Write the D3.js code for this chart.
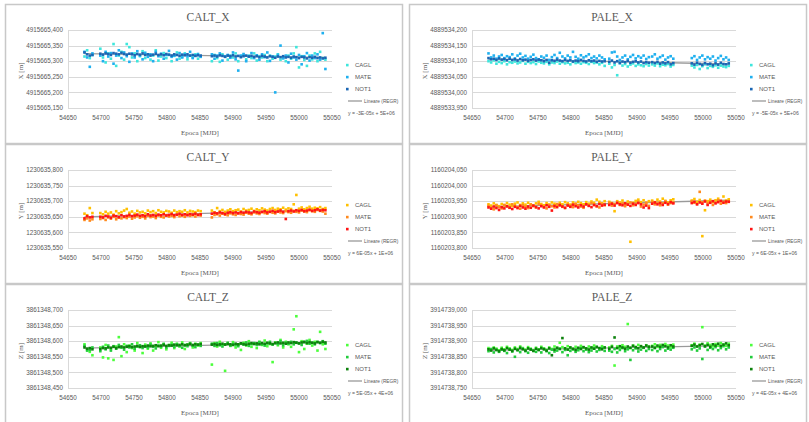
<!DOCTYPE html>
<html>
<head>
<meta charset="utf-8">
<script src="https://cdn.jsdelivr.net/npm/d3@7"></script>
<style>
  body { margin: 0; background: #fff; }
  text { fill: #595959; }
</style>
</head>
<body>
<div id="chart"></div>
<script>
// epochs (MJD) of the daily solutions, one list per site
var caltEpochs = [54675, 54679, 54683, 54687,
  54699, 54703, 54707, 54711, 54715, 54719, 54723, 54727, 54731, 54735, 54739, 54743, 54747, 54751, 54755, 54759, 54763, 54767, 54771, 54775,
  54779, 54783, 54787, 54791, 54795, 54799, 54803, 54807, 54811, 54815, 54819, 54823, 54827, 54831, 54835, 54839, 54843, 54847, 54851,
  54868, 54872, 54876, 54880, 54884, 54888, 54892, 54896, 54900, 54904, 54908, 54912, 54916, 54920, 54924, 54928, 54932, 54936, 54940, 54944,
  54948, 54952, 54956, 54960, 54964, 54968, 54972, 54976, 54980, 54984, 54988, 54992, 54996, 55000, 55004, 55008, 55012, 55016, 55020, 55024,
  55028, 55032, 55036, 55040];
var paleEpochs = [54675, 54679, 54683, 54687, 54691, 54695, 54699, 54703, 54707, 54711, 54715, 54719, 54723, 54727, 54731, 54735, 54739, 54743,
  54747, 54751, 54755, 54759, 54763, 54767, 54771, 54775, 54779, 54783, 54787, 54791, 54795, 54799, 54803, 54807, 54811, 54815, 54819, 54823,
  54827, 54831, 54835, 54839, 54843, 54847, 54851,
  54858, 54862, 54866, 54870, 54874, 54878, 54882, 54886, 54890, 54894, 54898, 54902, 54906, 54910, 54914, 54918,
  54923, 54927, 54931, 54935, 54939, 54943, 54947, 54951, 54955,
  54983, 54987, 54991, 54995, 54999, 55003, 55007, 55011, 55015, 55019, 55023, 55027, 55031, 55035, 55039];

var stations = ["CAGL", "MATE", "NOT1"];
var xTicks = [54650, 54700, 54750, 54800, 54850, 54900, 54950, 55000, 55050];

// coordinates: millimetres above the integer metre base of each panel
// CALT_X  base 4915665 m
var caltXCagl = [315, 335, 310, 320,
  340, 312, 296, 325, 308, 355, 285, 318, 330, 305, 355, 345, 312, 325, 300, 316, 332, 310, 322, 305, 318, 335, 302, 315, 326, 310, 320, 300, 317, 328, 308, 314, 325, 306, 318, 312, 322, 308, 316,
  300, 320, 310, 298, 322, 315, 305, 318, 312, 325, 300, 314, 320, 306, 318, 310, 325, 302, 316, 312, 320, 300, 318, 308, 315, 322, 305, 312, 300, 318, 308, 325, 345, 280, 316, 304, 285, 318, 306, 325, 300, 330, 310, 305];
var caltXMate = [330, 312, 282, 325,
  318, 300, 330, 315, 326, 292, 318, 335, 310, 328, 316, 298, 325, 312, 332, 318, 306, 327, 314, 322, 300, 330, 316, 324, 308, 320, 333, 314, 318, 305, 326, 312, 322, 315, 330, 310, 318, 323, 314,
  322, 308, 318, 325, 302, 316, 320, 311, 328, 306, 270, 318, 323, 300, 315, 326, 310, 319, 305, 322, 313, 328, 301, 315, 200, 320, 350, 309, 318, 296, 324, 312, 305, 320, 290, 316, 326, 302, 318, 310, 322, 305, 390, 275];
var caltXNot1 = [328, 322, 318, 320,
  324, 321, 325, 323, 320, 326, 324, 322, 327, 323, 321, 324, 322, 319, 323, 321, 325, 320, 322, 318, 321, 324, 320, 322, 319, 323, 321, 318, 322, 320, 317, 321, 319, 322, 318, 320, 317, 319, 318,
  316, 318, 315, 319, 317, 314, 318, 316, 319, 315, 317, 313, 316, 318, 315, 317, 314, 316, 313, 317, 315, 312, 316, 314, 311, 315, 313, 316, 312, 314, 311, 315, 313, 310, 314, 312, 309, 313, 311, 314, 310, 312, 309, 311];

// CALT_Y  base 1230635 m
var caltYCagl = [660, 655, 678, 662,
  662, 658, 666, 660, 664, 657, 668, 661, 665, 670, 675, 663, 667, 660, 669, 664, 666, 661, 670, 665, 668, 662, 671, 666, 664, 669, 667, 663, 670, 665, 668, 666, 671, 664, 669, 667, 665, 670, 668,
  670, 664, 678, 668, 672, 666, 670, 674, 668, 671, 673, 667, 675, 670, 672, 676, 669, 674, 671, 677, 673, 670, 675, 678, 672, 676, 674, 679, 673, 677, 675, 690, 720, 676, 680, 674, 678, 682, 676, 679, 677, 681, 675, 678];
var caltYMate = [640, 645, 638, 642,
  643, 646, 640, 648, 644, 650, 642, 647, 645, 649, 646, 651, 644, 648, 652, 647, 650, 645, 653, 649, 651, 646, 654, 650, 648, 655, 651, 653, 649, 656, 652, 654, 650, 657, 653, 655, 651, 656, 654,
  648, 656, 658, 654, 660, 657, 655, 661, 658, 656, 662, 659, 657, 663, 660, 658, 664, 661, 659, 665, 662, 660, 666, 663, 661, 667, 664, 662, 668, 665, 663, 669, 666, 664, 670, 667, 665, 671, 668, 666, 672, 669, 667, 660];
var caltYNot1 = [645, 652, 648, 650,
  650, 648, 653, 651, 647, 654, 652, 649, 655, 651, 653, 656, 652, 654, 657, 653, 655, 652, 658, 654, 656, 653, 657, 655, 658, 654, 656, 659, 655, 657, 660, 656, 658, 655, 659, 657, 660, 656, 658,
  660, 663, 661, 664, 662, 659, 663, 665, 662, 664, 661, 665, 663, 666, 664, 662, 667, 665, 663, 666, 668, 664, 666, 669, 665, 667, 670, 666, 643, 668, 670, 667, 671, 669, 672, 668, 670, 673, 669, 671, 674, 670, 672, 671];

// CALT_Z  base 3861348 m
var caltZCagl = [590, 572, 566, 555,
  580, 548, 588, 545, 575, 540, 583, 613, 552, 590, 565, 586, 578, 570, 594, 581, 562, 589, 576, 593, 570, 586, 597, 579, 591, 574, 588, 595, 578, 592, 583, 596, 575, 589, 594, 580, 592, 586, 594,
  525, 594, 583, 598, 588, 505, 592, 585, 597, 580, 590, 572, 595, 586, 600, 582, 593, 578, 598, 588, 602, 584, 591, 533, 596, 587, 604, 580, 598, 590, 582, 638, 680, 565, 600, 575, 592, 604, 586, 598, 570, 630, 590, 575];
var caltZMate = [585, 570, 572, 580,
  568, 582, 574, 586, 570, 584, 576, 588, 579, 573, 585, 580, 590, 576, 583, 587, 578, 584, 580, 589, 582, 577, 586, 583, 591, 580, 585, 588, 582, 590, 585, 579, 588, 584, 592, 586, 581, 589, 585,
  592, 585, 594, 587, 583, 590, 595, 586, 591, 588, 584, 593, 589, 596, 585, 591, 594, 588, 597, 590, 586, 593, 598, 589, 594, 591, 600, 587, 595, 592, 598, 590, 596, 593, 588, 597, 601, 592, 595, 590, 598, 594, 600, 592];
var caltZNot1 = [580, 576, 578, 574,
  575, 578, 577, 580, 579, 582, 578, 581, 583, 580, 582, 584, 581, 583, 585, 582, 584, 583, 586, 584, 585, 587, 584, 586, 588, 585, 587, 586, 589, 587, 588, 590, 587, 589, 591, 588, 590, 589, 591,
  589, 591, 588, 590, 592, 589, 591, 590, 588, 592, 590, 593, 591, 589, 592, 594, 591, 593, 590, 594, 592, 595, 593, 591, 594, 596, 593, 595, 592, 596, 594, 597, 595, 593, 596, 598, 594, 597, 595, 593, 597, 595, 598, 596];

// PALE_X  base 4889533 m
var paleXCagl = [1100, 1096, 1103, 1092, 1098, 1094, 1100, 1090, 1097, 1095, 1099, 1093, 1096, 1101, 1092, 1098, 1094, 1097, 1091, 1099, 1095, 1093, 1098,
  1090, 1096, 1094, 1099, 1092, 1097, 1093, 1095, 1090, 1098, 1094, 1096, 1092, 1097, 1095, 1091, 1098, 1094, 1096, 1090, 1095, 1085,
  1092, 1080, 1088, 1055, 1094, 1086, 1091, 1083, 1089, 1093, 1085, 1090, 1087, 1084, 1091, 1086,
  1090, 1086, 1093, 1084, 1089, 1087, 1091, 1083, 1088,
  1086, 1080, 1088, 1075, 1084, 1090, 1078, 1085, 1082, 1087, 1079, 1086, 1083, 1081, 1085];
var paleXMate = [1125, 1112, 1118, 1108, 1115, 1120, 1110, 1116, 1113, 1122, 1109, 1118, 1124, 1112, 1117, 1108, 1114, 1121, 1110, 1106, 1115, 1111, 1118,
  1104, 1113, 1120, 1110, 1127, 1115, 1109, 1118, 1112, 1130, 1114, 1108, 1119, 1112, 1116, 1122, 1110, 1115, 1109, 1118, 1112, 1106,
  1108, 1128, 1130, 1115, 1104, 1112, 1118, 1106, 1114, 1120, 1109, 1116, 1111, 1118, 1107, 1113,
  1115, 1122, 1108, 1113, 1118, 1105, 1112, 1116, 1108,
  1110, 1116, 1104, 1112, 1118, 1106, 1113, 1108, 1115, 1102, 1110, 1117, 1106, 1112, 1104];
var paleXNot1 = [1110, 1106, 1108, 1104, 1109, 1105, 1107, 1103, 1108, 1104, 1106, 1102, 1107, 1103, 1105, 1101, 1104, 1106, 1102, 1105, 1103, 1100, 1104,
  1095, 1103, 1101, 1105, 1102, 1100, 1104, 1101, 1103, 1099, 1102, 1100, 1104, 1101, 1099, 1103, 1100, 1102, 1098, 1101, 1099, 1100,
  1098, 1102, 1096, 1100, 1094, 1099, 1097, 1101, 1095, 1098, 1100, 1096, 1099, 1094, 1097, 1095,
  1097, 1094, 1098, 1092, 1096, 1093, 1097, 1090, 1094,
  1093, 1089, 1095, 1091, 1088, 1094, 1090, 1092, 1087, 1093, 1089, 1095, 1091, 1090, 1093];

// PALE_Y  base 1160203 m
var paleYCagl = [940, 936, 943, 938, 934, 941, 937, 944, 939, 935, 942, 946, 938, 943, 939, 945, 940, 936, 943, 948, 941, 937, 944,
  939, 946, 942, 938, 945, 940, 947, 943, 939, 946, 941, 948, 944, 940, 947, 942, 949, 945, 955, 948, 943, 950,
  948, 944, 918, 950, 946, 952, 943, 949, 820, 945, 951, 955, 947, 953, 944, 950,
  952, 947, 955, 949, 958, 951, 946, 953, 956,
  952, 957, 948, 954, 838, 921, 950, 955, 947, 953, 958, 950, 965, 952, 956];
var paleYMate = [935, 929, 924, 937, 931, 927, 938, 933, 929, 940, 935, 931, 926, 937, 932, 928, 939, 934, 930, 941, 936, 932, 927,
  938, 934, 930, 941, 936, 932, 928, 939, 935, 931, 942, 937, 933, 929, 940, 936, 944, 938, 934, 930, 941, 937,
  945, 936, 941, 947, 938, 943, 934, 940, 946, 937, 942, 948, 933, 939, 945, 935,
  948, 940, 945, 937, 943, 950, 939, 944, 946,
  950, 945, 941, 980, 947, 952, 944, 949, 938, 946, 953, 942, 948, 944, 950];
var paleYNot1 = [930, 926, 933, 928, 922, 931, 927, 934, 929, 925, 932, 928, 935, 930, 926, 933, 929, 936, 931, 927, 934, 930, 937,
  932, 920, 935, 931, 938, 933, 929, 936, 932, 939, 934, 930, 937, 933, 940, 935, 931, 938, 934, 941, 936, 939,
  938, 942, 936, 944, 940, 937, 943, 939, 935, 942, 938, 944, 940, 930, 936, 928,
  942, 946, 940, 944, 938, 945, 941, 947, 943,
  944, 948, 940, 946, 942, 949, 938, 945, 950, 943, 947, 951, 945, 949, 948];

// PALE_Z  base 3914738 m
var paleZCagl = [878, 873, 880, 876, 871, 879, 874, 882, 877, 872, 880, 875, 883, 878, 873, 881, 876, 871, 879, 874, 882, 877, 872,
  880, 875, 883, 878, 895, 881, 876, 884, 879, 874, 882, 877, 885, 880, 875, 883, 878, 886, 881, 876, 884, 879,
  880, 885, 822, 883, 879, 887, 882, 955, 878, 886, 881, 888, 884, 879, 887, 883,
  885, 890, 882, 888, 884, 891, 886, 881, 889,
  887, 892, 884, 889, 945, 886, 893, 888, 884, 891, 886, 894, 889, 885, 892];
var paleZMate = [868, 875, 864, 872, 866, 873, 869, 862, 874, 867, 850, 871, 865, 876, 868, 863, 874, 869, 866, 872, 864, 875, 868,
  862, 873, 867, 870, 876, 865, 872, 855, 869, 874, 866, 871, 877, 868, 873, 865, 870, 876, 867, 872, 878, 869,
  870, 866, 875, 864, 872, 878, 868, 874, 840, 871, 877, 867, 873, 879, 869, 875,
  872, 878, 868, 875, 881, 870, 876, 873, 879,
  874, 880, 870, 877, 843, 883, 872, 879, 875, 881, 871, 878, 884, 874, 880];
var paleZNot1 = [874, 870, 877, 872, 868, 875, 871, 878, 873, 869, 876, 872, 879, 874, 870, 877, 873, 869, 876, 872, 878, 874, 870,
  877, 855, 873, 879, 875, 910, 877, 873, 880, 876, 872, 879, 875, 881, 877, 873, 880, 876, 882, 878, 874, 880,
  876, 882, 912, 878, 884, 880, 876, 883, 879, 885, 881, 877, 884, 880, 886, 882,
  883, 879, 886, 882, 888, 884, 880, 887, 883,
  885, 889, 883, 887, 891, 884, 888, 882, 890, 886, 892, 885, 889, 893, 887];

// REGR trend line, value at first and last epoch (mm above base)
var trendEpochs = [54675, 55040];
var caltXTrend = [324, 312], paleXTrend = [1107, 1091];
var caltYTrend = [650, 672], paleYTrend = [932, 953];
var caltZTrend = [578, 596], paleZTrend = [871, 886];

var blues = ["#3ee6dc", "#1fb0ef", "#1b66b4"];
var oranges = ["#ffc000", "#ff8a1e", "#ff1414"];
var greens = ["#4cff3c", "#22cc3c", "#0d820d"];

var panels = [
  {title: "CALT_X", axis: "X [m]", base: 4915665, dom: [150, 400], ep: caltEpochs, s: [caltXCagl, caltXMate, caltXNot1], tr: caltXTrend, col: blues, eq: "y = -3E-05x + 5E+06"},
  {title: "PALE_X", axis: "X [m]", base: 4889533, dom: [950, 1200], ep: paleEpochs, s: [paleXCagl, paleXMate, paleXNot1], tr: paleXTrend, col: blues, eq: "y = -5E-05x + 5E+06"},
  {title: "CALT_Y", axis: "Y [m]", base: 1230635, dom: [550, 800], ep: caltEpochs, s: [caltYCagl, caltYMate, caltYNot1], tr: caltYTrend, col: oranges, eq: "y = 6E-05x + 1E+06"},
  {title: "PALE_Y", axis: "Y [m]", base: 1160203, dom: [800, 1050], ep: paleEpochs, s: [paleYCagl, paleYMate, paleYNot1], tr: paleYTrend, col: oranges, eq: "y = 6E-05x + 1E+06"},
  {title: "CALT_Z", axis: "Z [m]", base: 3861348, dom: [450, 700], ep: caltEpochs, s: [caltZCagl, caltZMate, caltZNot1], tr: caltZTrend, col: greens, eq: "y = 5E-05x + 4E+06"},
  {title: "PALE_Z", axis: "Z [m]", base: 3914738, dom: [750, 1000], ep: paleEpochs, s: [paleZCagl, paleZMate, paleZNot1], tr: paleZTrend, col: greens, eq: "y = 4E-05x + 4E+06"}
];

var W = 809, H = 422;
var svg = d3.select("#chart").append("svg")
    .attr("width", W)
    .attr("height", H);

var serif = "'Liberation Serif', 'DejaVu Serif', serif";
var sans = "'Liberation Sans', Arial, sans-serif";

panels.forEach(function(p, i) {
  var ox = (i % 2) * 404, oy = Math.floor(i / 2) * 140;
  var g = svg.append("g").attr("transform", "translate(" + ox + "," + oy + ")");

  // panel frame
  g.append("rect")
      .attr("x", 5.5).attr("y", 4.5)
      .attr("width", 397).attr("height", 139)
      .attr("fill", "none")
      .attr("stroke", "#c8c8c8")
      .attr("stroke-width", 1.5);

  var x = d3.scaleLinear().domain([54650, 55050]).range([68, 332]);
  var y = d3.scaleLinear().domain(p.dom).range([108, 30]);

  // gridlines + y labels
  var yt = y.ticks(5);
  g.selectAll(".grid").data(yt).enter().append("line")
      .attr("x1", 68).attr("x2", 332)
      .attr("y1", function(d) { return Math.round(y(d)) + 0.5; })
      .attr("y2", function(d) { return Math.round(y(d)) + 0.5; })
      .attr("stroke", "#d9d9d9");
  g.append("line")
      .attr("x1", 68.5).attr("x2", 68.5).attr("y1", 30).attr("y2", 108.5)
      .attr("stroke", "#d9d9d9");
  g.selectAll(".ylab").data(yt).enter().append("text")
      .attr("x", 63)
      .attr("y", function(d) { return y(d) + 2.2; })
      .attr("text-anchor", "end")
      .style("font", "6.3px " + sans)
      .text(function(d) { return (p.base + d / 1000).toFixed(3).replace(".", ","); });

  g.selectAll(".xlab").data(xTicks).enter().append("text")
      .attr("x", function(d) { return x(d); })
      .attr("y", 119.5)
      .attr("text-anchor", "middle")
      .style("font", "6.3px " + sans)
      .text(function(d) { return d; });

  // titles
  g.append("text")
      .attr("x", 208).attr("y", 20.5)
      .attr("text-anchor", "middle")
      .style("font", "11.5px " + serif)
      .text(p.title);
  g.append("text")
      .attr("x", 200).attr("y", 134.5)
      .attr("text-anchor", "middle")
      .style("font", "7px " + serif)
      .text("Epoca [MJD]");
  g.append("text")
      .attr("transform", "translate(22.5,71) rotate(-90)")
      .attr("text-anchor", "middle")
      .style("font", "7px " + serif)
      .text(p.axis);

  // regression line under the points
  g.append("line")
      .attr("x1", x(trendEpochs[0])).attr("x2", x(trendEpochs[1]))
      .attr("y1", y(p.tr[0])).attr("y2", y(p.tr[1]))
      .attr("stroke", "#9a9a9a")
      .attr("stroke-width", 1.3);

  // the three stations
  p.s.forEach(function(vals, k) {
    g.append("g").selectAll("rect")
        .data(vals)
      .enter().append("rect")
        .attr("x", function(d, j) { return x(p.ep[j]) - 1.3; })
        .attr("y", function(d) { return y(d) - 1.3; })
        .attr("width", 2.6).attr("height", 2.6)
        .attr("fill", p.col[k]);
  });

  // legend
  var lg = g.append("g");
  stations.forEach(function(st, k) {
    lg.append("rect")
        .attr("x", 346).attr("y", 63.8 + k * 12)
        .attr("width", 2.6).attr("height", 2.6)
        .attr("fill", p.col[k]);
    lg.append("text")
        .attr("x", 355).attr("y", 67.3 + k * 12)
        .style("font", "6px " + sans)
        .text(st);
  });
  lg.append("line")
      .attr("x1", 348).attr("x2", 362).attr("y1", 101).attr("y2", 101)
      .attr("stroke", "#9a9a9a").attr("stroke-width", 1.3);
  // narrow (Calibri-like) legend lines
  lg.append("text")
      .attr("transform", "translate(364,103) scale(0.8,1)")
      .style("font", "6px " + sans)
      .text("Lineare (REGR)");
  lg.append("text")
      .attr("transform", "translate(348,114.5) scale(0.85,1)")
      .style("font", "6px " + sans)
      .text(p.eq);
});
</script>
</body>
</html>
